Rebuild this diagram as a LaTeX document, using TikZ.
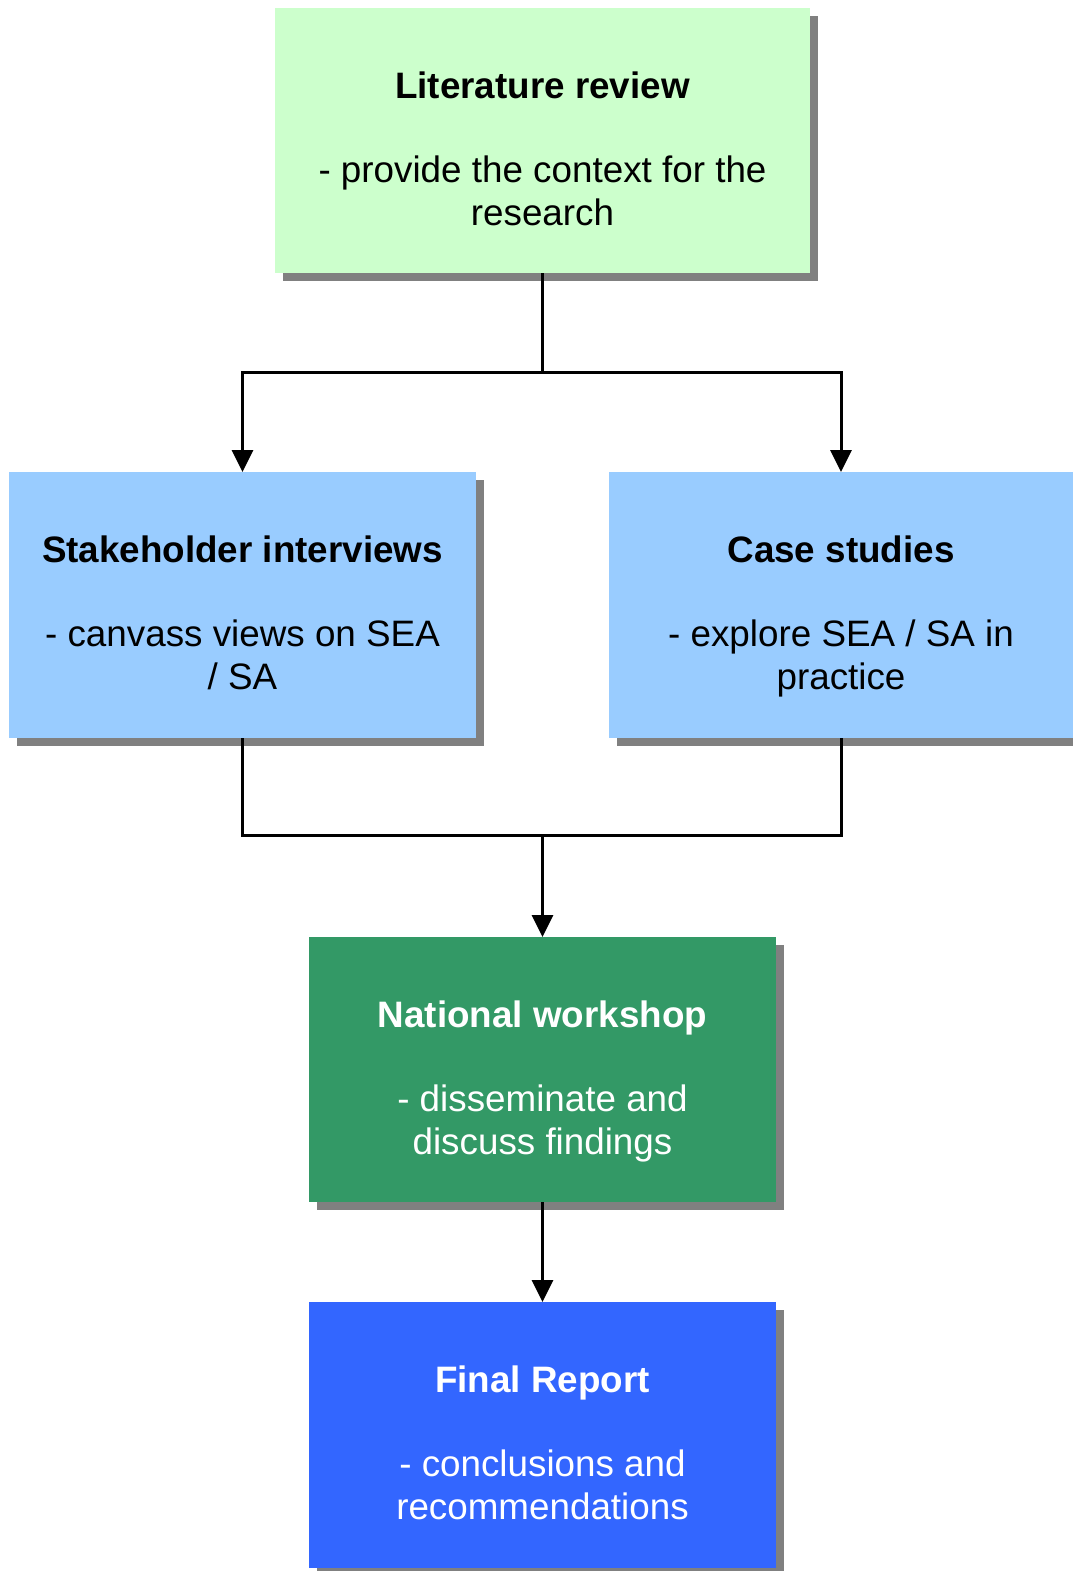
\documentclass[tikz,border=0pt]{standalone}
\usepackage{fontspec}
\setmainfont{Liberation Sans}
\usetikzlibrary{arrows.meta,shadows}
\definecolor{litgreen}{HTML}{CCFFCC}
\definecolor{skyblue}{HTML}{99CCFF}
\definecolor{seagreen}{HTML}{339966}
\definecolor{royal}{HTML}{3366FF}
\definecolor{shadowgray}{HTML}{808080}
\newcommand\flowbox[9]{%
  \node[boxbase,#6,minimum width={#4-#2},minimum height={#5-#3}] (#1) at ({(#2+#4)/2},{(#3+#5)/2}) {};
  \node[txt,#6,font=\bodyfont\bfseries] (#1-title) at ({(#2+#4)/2},{#3+90.5}) {#7};
  \node[txt,#6] (#1-l1) at ({(#2+#4)/2},{#3+174}) {#8};
  \node[txt,#6] (#1-l2) at ({(#2+#4)/2},{#3+217.5}) {#9};
}
\newcommand\bodyfont{\fontsize{36.8}{44}\selectfont}
\begin{document}
\begin{tikzpicture}[x=1pt,y=-1pt,
  boxbase/.style={inner sep=0pt,outer sep=0pt,draw=none,
    drop shadow={shadow xshift=8pt,shadow yshift=-8pt,fill=shadowgray,opacity=1}},
  txt/.style={inner sep=0pt,outer sep=0pt,anchor=base,font=\bodyfont,fill=none,draw=none,drop shadow/.style={}},
  litbox/.style={fill=litgreen,text=black},
  bluebox/.style={fill=skyblue,text=black},
  natbox/.style={fill=seagreen,text=white},
  finbox/.style={fill=royal,text=white},
  conn/.style={line width=3pt,black},
  arr/.style={conn,-{Triangle[width=21pt,length=22pt]}}]
\useasboundingbox (0,0) rectangle (1072,1571);
\flowbox{lit}{275}{8}{810}{273}{litbox}{Literature review}{- provide the context for the}{research}
\flowbox{stake}{9}{472}{476}{738}{bluebox}{Stakeholder interviews}{- canvass views on SEA}{/ SA}
\flowbox{case}{609}{472}{1073}{738}{bluebox}{Case studies}{- explore SEA / SA in}{practice}
\flowbox{nat}{309}{937}{776}{1202}{natbox}{National workshop}{- disseminate and}{discuss findings}
\flowbox{fin}{309}{1302}{776}{1568}{finbox}{Final Report}{- conclusions and}{recommendations}
\coordinate (j1) at (542.5,372);
\coordinate (j2) at (542.5,835);
\draw[conn] (lit.south) -- (j1);
\draw[arr] (j1) -| (stake.north);
\draw[arr] (j1) -| (case.north);
\draw[conn] (stake.south) |- (j2) -| (case.south);
\draw[arr] (j2) -- (nat.north);
\draw[arr] (nat.south) -- (fin.north);
\end{tikzpicture}
\end{document}
